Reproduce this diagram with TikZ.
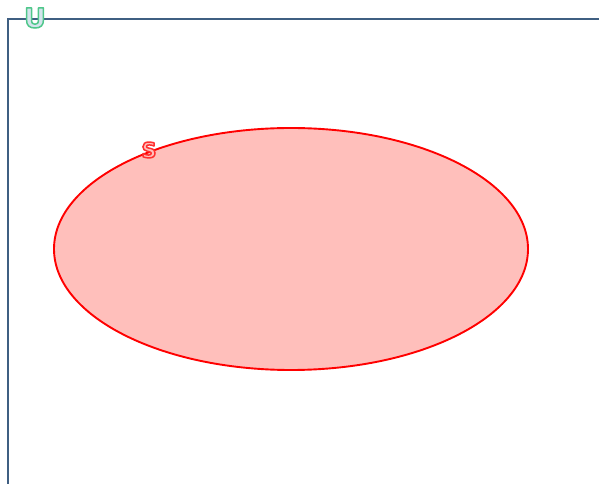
\documentclass[tikz,border=0pt]{standalone}
\usepackage{fontspec}
\setmainfont{DejaVu Sans}
\usetikzlibrary{shapes.geometric}
\definecolor{framec}{HTML}{3F5F82}
\definecolor{ufill}{HTML}{D3E4EC}
\definecolor{sfill}{HTML}{FFBFBB}
\definecolor{efill}{HTML}{FFBFBB}
% outlined text: fill colour #1, stroke rgb #2, stroke width #3
\newcommand{\outltxt}[4]{\textcolor{#1}{\special{pdf:literal direct #2 RG #3 w 2 Tr 1 j}#4\special{pdf:literal direct 0 Tr}}}
\tikzset{
  setline/.style={draw=red, line width=1.9pt, fill=efill},
  framel/.style={draw=framec, line width=2pt},
  lbl/.style={inner sep=0pt, font=\bfseries}
}
\begin{document}
\begin{tikzpicture}[x=1pt,y=1pt]
\useasboundingbox (0,0) rectangle (599,484);
\coordinate (fb) at (8,0);
\coordinate (fc) at (8,465);
\coordinate (fe) at (599,465);
\draw[framel] (fb) -- (fc) -- (fe);
\node[setline, ellipse, minimum width=474, minimum height=242, inner sep=0pt] (S) at (291,235) {};
\node[lbl, font=\bfseries\fontsize{27}{27}\selectfont] (ul) at (35,466) {\outltxt{ufill}{0.31 0.78 0.54}{1.5}{U}};
\node[lbl, font=\bfseries\fontsize{21}{21}\selectfont] (sl) at (149,334) {\outltxt{sfill}{1 0.19 0.19}{1.5}{S}};
\end{tikzpicture}
\end{document}
